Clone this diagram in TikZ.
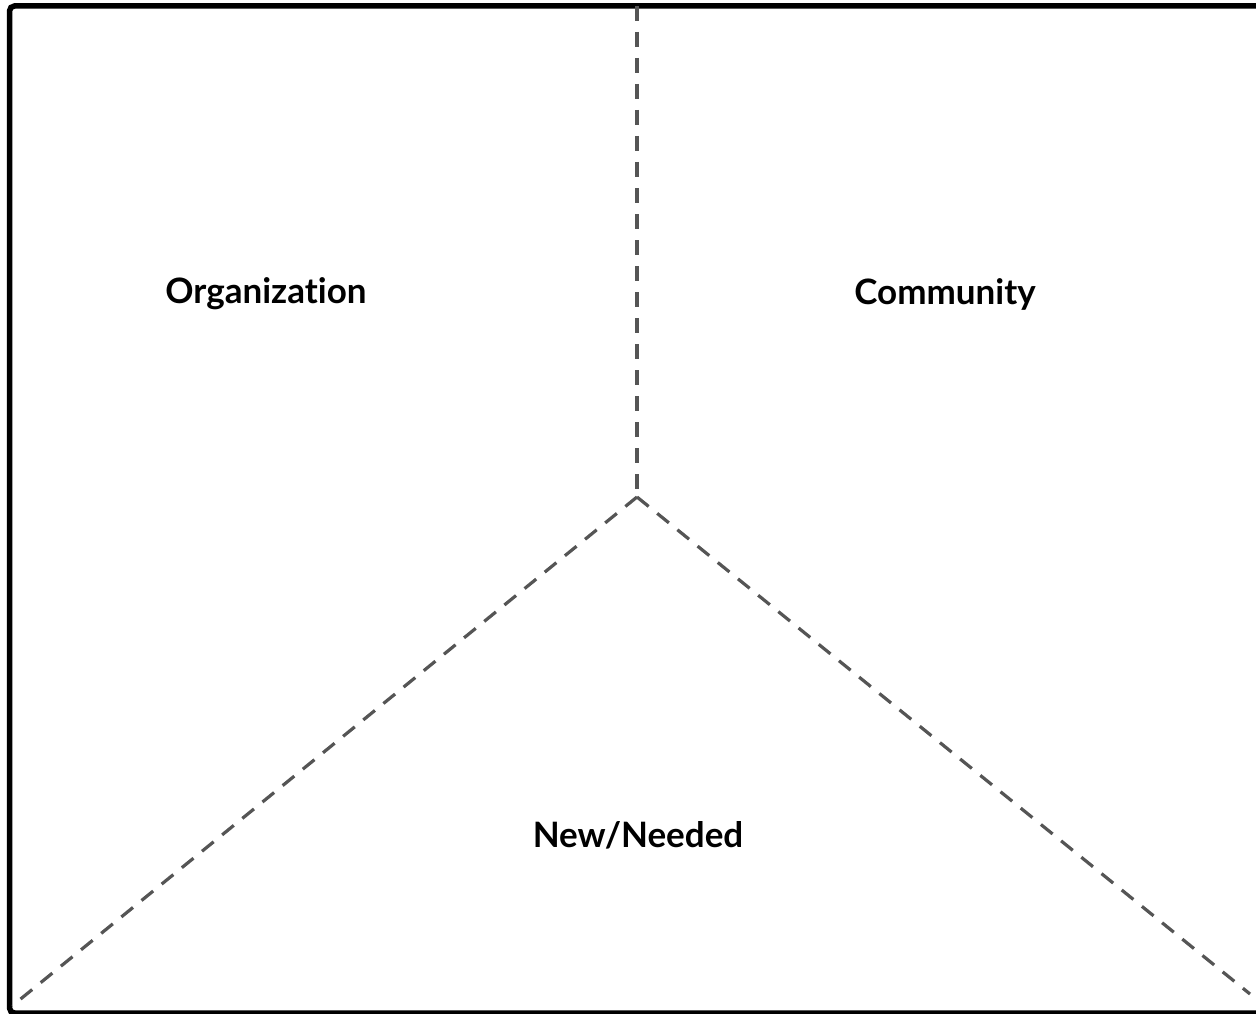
\documentclass[tikz,border=0pt]{standalone}
\usepackage{fontspec}
\setmainfont{Lato}[Ligatures=NoCommon]
\usepackage{tikz}
\usetikzlibrary{positioning,calc}
\definecolor{frameink}{HTML}{000000}
\definecolor{splitink}{HTML}{555555}

\begin{document}
\begin{tikzpicture}[x=1pt, y=-1pt, font=\fontsize{35}{42}\selectfont\bfseries]
  \tikzset{
    framebox/.style={draw=frameink, line width=5.5pt, rounded corners=5pt},
    splitline/.style={draw=splitink, line width=3.2pt, dash pattern=on 15pt off 11pt},
    zonelabel/.style={inner sep=0pt, anchor=center},
  }
  \useasboundingbox (0,0) rectangle (1256,1014);
  \draw[framebox] (9.5,6) rectangle (1270,1013);
  % split of the field
  \coordinate (hub)   at (637,497);
  \coordinate (top)   at (637,6);
  \coordinate (leftend)  at (12,1006);
  \coordinate (rightend) at (1250,994);
  \draw[splitline] (top) -- (hub);
  \draw[splitline] (hub) -- (leftend);
  \draw[splitline] (hub) -- (rightend);
  % zone labels
  \node[zonelabel] (org)  at (266,294) {Organization};
  \node[zonelabel] (comm) at (945,294) {Community};
  \node[zonelabel] (new)  at (638,835) {New/Needed};
\end{tikzpicture}
\end{document}
